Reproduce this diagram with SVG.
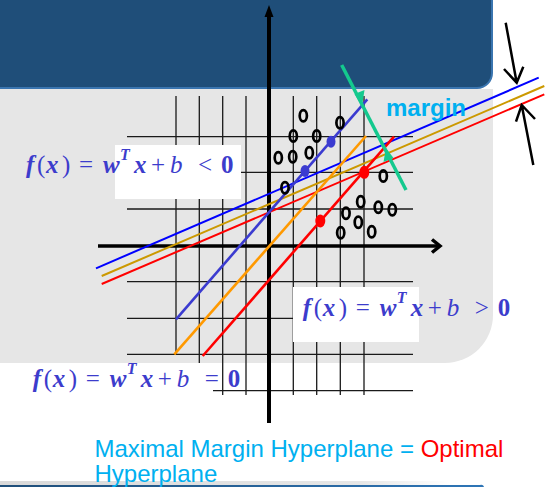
<svg xmlns="http://www.w3.org/2000/svg" width="548" height="487" viewBox="0 0 548 487">
<defs>
<style>
.grid{stroke:#1a1a1a;stroke-width:1.3;fill:none}
.o{fill:none;stroke:#000;stroke-width:2.7}
.m{font-family:"Liberation Serif","DejaVu Serif",serif;font-size:25px;fill:#3c3ccc}
.bi{font-weight:bold;font-style:italic}
.it{font-style:italic}
.b{font-weight:bold}
.box{fill:#fff}
.cap{font-family:"Liberation Sans",Arial,sans-serif;font-size:24px;fill:#00b0f0}
</style>
<linearGradient id="strip" x1="0" y1="0" x2="1" y2="0">
<stop offset="0" stop-color="#d9d9d9"/><stop offset="0.8" stop-color="#e6e6e6"/><stop offset="1" stop-color="#ffffff"/>
</linearGradient>
<linearGradient id="bar" x1="0" y1="0" x2="1" y2="0">
<stop offset="0" stop-color="#1f4e79"/><stop offset="1" stop-color="#2e75b6"/>
</linearGradient>
</defs>
<rect width="548" height="487" fill="#fff"/>
<g id="background">
<path d="M0,0 H492 V73 A15,15 0 0 1 477,88 H0 Z" fill="#1f4e79"/>
<path d="M492,0 V73 A15,15 0 0 1 477,88 H0" fill="none" stroke="#3a75b0" stroke-width="2"/>
<path d="M0,89 H493 V315 A48,48 0 0 1 445,363 H0 Z" fill="#e6e6e6"/>
<rect x="0" y="481" width="450" height="5" fill="url(#strip)"/>
<path d="M0,485 H480 A3,3 0 0 1 484,487 H0 Z" fill="url(#bar)"/>
</g>
<g id="grid">
<path class="grid" d="M176,96 V355 M199.3,96 V395 M222.7,96 V395 M246,96 V395 M293.3,96 V395 M316.7,96 V395 M340.3,96 V395 M364,96 V395"/>
<path class="grid" d="M127,136.7 H413 M127,172.3 H413 M127,209 H413 M127,281.7 H413 M127,318.3 H413 M127,354.3 H413 M127,390.7 H413"/>
</g>
<g id="label-box-less"><rect class="box" x="115" y="145" width="126" height="54"/></g>
<g id="label-box-greater"><rect class="box" x="293" y="287" width="126" height="55"/></g>
<g id="label-box-equal"><rect class="box" x="0" y="363" width="213" height="37"/></g>
<g id="axes">
<line x1="98" y1="246" x2="439" y2="246" stroke="#000" stroke-width="3.5"/>
<polyline points="432,239.5 440,246 432,252.5" fill="none" stroke="#000" stroke-width="3.5"/>
<line x1="269" y1="423" x2="269" y2="14" stroke="#000" stroke-width="4"/>
<polygon points="269,5 264.5,17 273.5,17" fill="#000"/>
</g>
<g id="connectors">
<line x1="96" y1="268.3" x2="538.7" y2="77.7" stroke="#0000ff" stroke-width="2"/>
<line x1="101.7" y1="276" x2="544.3" y2="86" stroke="#cc9900" stroke-width="2"/>
<line x1="101.7" y1="284" x2="544.3" y2="94.3" stroke="#ff0000" stroke-width="2"/>
<line x1="176" y1="319.3" x2="367.3" y2="99.3" stroke="#3b3bd0" stroke-width="2.6"/>
<line x1="174.3" y1="354.3" x2="366" y2="136" stroke="#ff9900" stroke-width="2.6"/>
<line x1="202.7" y1="356" x2="394" y2="136.7" stroke="#ff0000" stroke-width="2.6"/>
<line x1="341.7" y1="65" x2="406" y2="190" stroke="#14c98e" stroke-width="3.5"/>
<polygon points="362,106 354.5,94 364.5,90" fill="#14c98e"/>
<polygon points="386,148 383.5,162 393.5,158" fill="#14c98e"/>
<path d="M505.7,22.7 L516.7,82.7 M504,69 L516.7,82.7 L523.3,66.7" fill="none" stroke="#000" stroke-width="2.5"/>
<path d="M533.3,165 L521.7,105 M516,121.7 L521.7,105 L535,119" fill="none" stroke="#000" stroke-width="2.5"/>
</g>
<g id="points">
<ellipse class="o" cx="303.3" cy="115.7" rx="3.6" ry="5.6"/>
<ellipse class="o" cx="340" cy="122.7" rx="3.6" ry="5.6"/>
<ellipse class="o" cx="293.3" cy="136" rx="3.6" ry="5.6"/>
<ellipse class="o" cx="316.7" cy="136" rx="3.6" ry="5.6"/>
<ellipse class="o" cx="278.3" cy="157.7" rx="3.6" ry="5.6"/>
<ellipse class="o" cx="292.7" cy="156.7" rx="3.6" ry="5.6"/>
<ellipse class="o" cx="309.3" cy="152.7" rx="3.6" ry="5.6"/>
<ellipse class="o" cx="285" cy="187.7" rx="3.6" ry="5.6"/>
<ellipse class="o" cx="383.3" cy="176" rx="3.6" ry="5.6"/>
<ellipse class="o" cx="360.7" cy="201.7" rx="3.6" ry="5.6"/>
<ellipse class="o" cx="378.3" cy="207.3" rx="3.6" ry="5.6"/>
<ellipse class="o" cx="392.3" cy="209.7" rx="3.6" ry="5.6"/>
<ellipse class="o" cx="346" cy="213.3" rx="3.6" ry="5.6"/>
<ellipse class="o" cx="358.3" cy="222.3" rx="3.6" ry="5.6"/>
<ellipse class="o" cx="340.7" cy="232.7" rx="3.6" ry="5.6"/>
<ellipse class="o" cx="371.7" cy="231.7" rx="3.6" ry="5.6"/>
<ellipse cx="331" cy="141.7" rx="4.5" ry="6" fill="#3b3bd0"/>
<ellipse cx="305" cy="171" rx="4.5" ry="6" fill="#3b3bd0"/>
<ellipse cx="364.3" cy="172.3" rx="5" ry="6.5" fill="#ff0000"/>
<ellipse cx="320.3" cy="221" rx="5" ry="6.5" fill="#ff0000"/>
</g>
<g id="label-less">
<text class="m" y="173"><tspan class="bi" x="26">f</tspan><tspan x="37">(</tspan><tspan class="bi" x="46">x</tspan><tspan x="62">)</tspan><tspan x="79">=</tspan><tspan class="bi" x="103">w</tspan><tspan class="bi" x="120" y="160" font-size="16">T</tspan><tspan class="bi" x="134" y="173">x</tspan><tspan x="151">+</tspan><tspan class="it" x="170">b</tspan><tspan x="198">&lt;</tspan><tspan class="b" x="221">0</tspan></text>
</g>
<g id="label-greater" transform="translate(276.7,143)">
<text class="m" y="173"><tspan class="bi" x="26">f</tspan><tspan x="37">(</tspan><tspan class="bi" x="46">x</tspan><tspan x="62">)</tspan><tspan x="79">=</tspan><tspan class="bi" x="103">w</tspan><tspan class="bi" x="120" y="160" font-size="16">T</tspan><tspan class="bi" x="134" y="173">x</tspan><tspan x="151">+</tspan><tspan class="it" x="170">b</tspan><tspan x="198">&gt;</tspan><tspan class="b" x="221">0</tspan></text>
</g>
<g id="label-equal" transform="translate(6.7,213.5)">
<text class="m" y="173"><tspan class="bi" x="26">f</tspan><tspan x="37">(</tspan><tspan class="bi" x="46">x</tspan><tspan x="62">)</tspan><tspan x="79">=</tspan><tspan class="bi" x="103">w</tspan><tspan class="bi" x="120" y="160" font-size="16">T</tspan><tspan class="bi" x="134" y="173">x</tspan><tspan x="151">+</tspan><tspan class="it" x="170">b</tspan><tspan x="198">=</tspan><tspan class="b" x="221">0</tspan></text>
</g>
<g id="margin-label">
<text x="386" y="116" font-family="'Liberation Sans',Arial,sans-serif" font-weight="bold" font-size="24" fill="#00b0f0">margin</text>
</g>
<g id="caption">
<text class="cap" x="94.5" y="456.5">Maximal Margin Hyperplane = <tspan fill="#ff0000">Optimal</tspan></text>
<text class="cap" x="94.5" y="482">Hyperplane</text>
</g>
</svg>
